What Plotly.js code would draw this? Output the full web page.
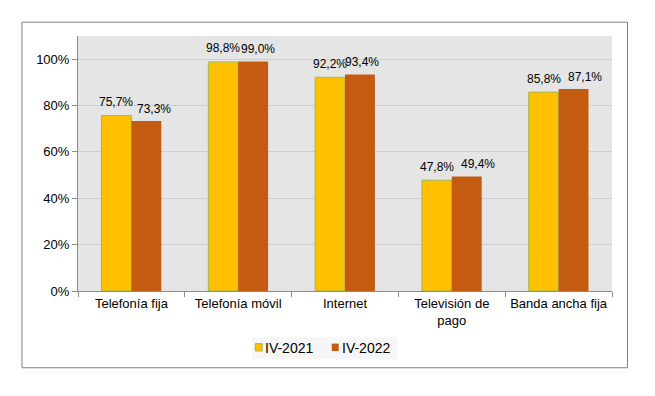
<!DOCTYPE html>
<html>
<head>
<meta charset="utf-8">
<script src="https://cdn.plot.ly/plotly-3.0.1.min.js"></script>
<style>html,body{margin:0;padding:0;background:#fff;}#chart{width:655px;height:396px;}</style>
</head>
<body>
<div id="chart"></div>
<script>
const categories = ["Telefonía fija", "Telefonía móvil", "Internet", "Televisión de<br>pago", "Banda ancha fija"];
const seriesNames = ["IV-2021", "IV-2022"];
const values2021 = [0.757, 0.988, 0.922, 0.478, 0.858];
const values2022 = [0.733, 0.990, 0.934, 0.494, 0.871];
const yTickVals = [0, 0.2, 0.4, 0.6, 0.8, 1.0];

const colors = ["#FFC000", "#C55A11"];
const fontFam = "Liberation Sans, Arial, sans-serif";
// label placement nudges (pixels), as in the original chart
const labelXShift = [[-15, -15, -15, -15, -15], [23, 20, 17, 26, 26]];
const labelYShift = [13.5, 12.5];

const traces = [
  {
    type: "bar", name: seriesNames[0], x: categories, y: values2021,
    marker: {color: colors[0], line: {color: "#9BBB59", width: 1}},
    hoverinfo: "skip", showlegend: false
  },
  {
    type: "bar", name: seriesNames[1], x: categories, y: values2022,
    marker: {color: colors[1], line: {width: 0}},
    hoverinfo: "skip", showlegend: false
  }
];

function fmtPct(v) {
  return (v * 100).toFixed(1).replace(".", ",") + "%";
}

const annotations = [];
[values2021, values2022].forEach(function (vals, si) {
  vals.forEach(function (v, i) {
    annotations.push({
      xref: "x", yref: "y", x: categories[i], y: v,
      text: fmtPct(v), showarrow: false, borderpad: 0,
      xanchor: "center", yanchor: "middle",
      xshift: labelXShift[si][i], yshift: labelYShift[si],
      font: {family: fontFam, size: 12, color: "#000"}
    });
  });
});

// legend (drawn manually to match compact style)
const legendSquares = [[0.3320, 0.3451], [0.4751, 0.4882]];
const legendTextX = [0.3474, 0.4916];
annotations.push(
  {xref: "paper", yref: "paper", x: legendTextX[0], y: -0.2227, xanchor: "left", yanchor: "middle",
   text: seriesNames[0], showarrow: false, borderpad: 0, font: {family: fontFam, size: 14, color: "#000"}},
  {xref: "paper", yref: "paper", x: legendTextX[1], y: -0.2227, xanchor: "left", yanchor: "middle",
   text: seriesNames[1], showarrow: false, borderpad: 0, font: {family: fontFam, size: 14, color: "#000"}}
);

const shapes = [
  {type: "rect", xref: "paper", yref: "paper",
   x0: -0.1049, x1: 1.029, y0: -0.301, y1: 1.054,
   line: {color: "#808080", width: 1}, fillcolor: "rgba(0,0,0,0)", layer: "below"},
  {type: "rect", xref: "paper", yref: "paper",
   x0: 0.3258, x1: 0.5974, y0: -0.268, y1: -0.1816,
   line: {width: 0}, fillcolor: "#f6f6f6", layer: "below"},
  {type: "rect", xref: "paper", yref: "paper",
   x0: legendSquares[0][0], x1: legendSquares[0][1], y0: -0.2353, y1: -0.2063,
   line: {color: "#9BBB59", width: 1}, fillcolor: colors[0]},
  {type: "rect", xref: "paper", yref: "paper",
   x0: legendSquares[1][0], x1: legendSquares[1][1], y0: -0.2353, y1: -0.2063,
   line: {width: 0}, fillcolor: colors[1]}
];

const layout = {
  width: 655, height: 396,
  margin: {l: 78, r: 43, t: 36, b: 105},
  paper_bgcolor: "#ffffff",
  plot_bgcolor: "#e5e5e5",
  separators: ",.",
  font: {family: fontFam, size: 13, color: "#000"},
  barmode: "group",
  bargap: 0.44,
  bargroupgap: 0,
  showlegend: false,
  xaxis: {
    type: "category",
    showline: true, linecolor: "#8c8c8c", linewidth: 1,
    ticks: "outside", tickson: "boundaries", ticklen: 5, tickcolor: "#8c8c8c",
    tickfont: {size: 13}, showgrid: false, automargin: false
  },
  yaxis: {
    range: [0, 1.1], tickvals: yTickVals, tickformat: ".0%",
    showline: true, linecolor: "#8c8c8c", linewidth: 1,
    ticks: "outside", ticklen: 5, tickcolor: "#8c8c8c",
    showgrid: true, gridcolor: "#cfcfcf", gridwidth: 1,
    zeroline: false, tickfont: {size: 13}, automargin: false
  },
  annotations: annotations,
  shapes: shapes
};

Plotly.newPlot("chart", traces, layout, {displayModeBar: false, staticPlot: true});
</script>
</body>
</html>
